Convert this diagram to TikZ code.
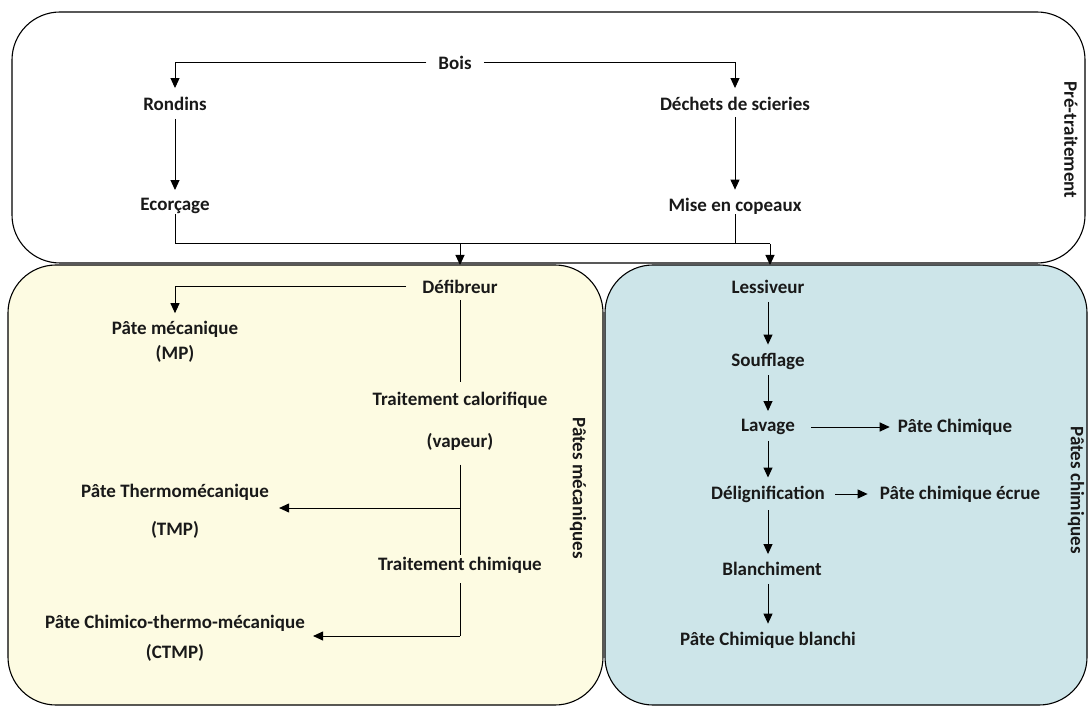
\documentclass[tikz,border=0pt]{standalone}
\usepackage{fontspec}
\setmainfont{Carlito}
\usetikzlibrary{arrows.meta}
\definecolor{boxyellow}{HTML}{FDFBE2}
\definecolor{boxblue}{HTML}{CDE5E9}
\tikzset{
  lbl/.style={font=\bfseries\fontsize{19}{23}\selectfont, inner sep=4pt, text=black!90},
  arr/.style={-{Triangle[length=10pt,width=9pt]}, line width=1pt},
  ln/.style={line width=1pt},
  frame/.style={line width=1.1pt, rounded corners=48pt},
}
\begin{document}
\begin{tikzpicture}[x=1pt,y=-1pt]
\useasboundingbox (0,0) rectangle (1089,708);
% frames
\draw[frame, fill=boxyellow] (8,265) rectangle (603,705);
\draw[frame, fill=boxblue] (605,265) rectangle (1087,705);
\draw[frame, fill=white] (12,12) rectangle (1085,263);

% pre-traitement
\node[lbl] (bois) at (455,63) {Bois};
\node[lbl] (rondins) at (175,104) {Rondins};
\node[lbl] (dechets) at (735,104) {Déchets de scieries};
\node[lbl] (ecor) at (175,206) {Ecorçage};
\node[lbl] (mise) at (735,206) {Mise en copeaux};
\node[lbl, rotate=-90] (pre) at (1071,140) {Pré-traitement};

\draw[arr] ([xshift=-8pt]bois.west) -| ([yshift=5pt]rondins.north);
\draw[arr] ([xshift=8pt]bois.east) -| ([yshift=5pt]dechets.north);
\draw[arr, shorten <=4pt, shorten >=4pt] (rondins) -- (ecor);
\draw[arr, shorten <=2pt, shorten >=4pt] (dechets) -- (mise);

\coordinate (jl) at (175,244);
\coordinate (jr) at (770,244);
\coordinate (jd) at (460,244);
\coordinate (jm) at (735,244);
\coordinate (t1) at (460,265);
\coordinate (t2) at (770,265);
\draw[ln] ([yshift=4pt]ecor.south) |- (jr);
\draw[ln] ([yshift=4pt]mise.south) -- (jm);
\draw[arr] (jd) -- (t1);
\draw[arr] (jr) -- (t2);

% pates mecaniques
\node[lbl] (defib) at (460,287) {Défibreur};
\node[lbl, align=center] (pmec) at (175,342) {Pâte mécanique\\[2pt](MP)};
\node[lbl] (tcal) at (460,400) {Traitement calorifique};
\node[lbl] (vap) at (460,442) {(vapeur)};
\node[lbl, align=center] (ptmp) at (175,511) {Pâte Thermomécanique\\[15pt](TMP)};
\node[lbl] (tchim) at (460,565) {Traitement chimique};
\node[lbl, align=center] (pctmp) at (175,638) {Pâte Chimico-thermo-mécanique\\[7pt](CTMP)};
\node[lbl, rotate=-90] (pmecs) at (578,488) {Pâtes mécaniques};

\draw[arr] ([xshift=-12pt]defib.west) -| ([yshift=4pt]pmec.north);
\draw[ln, shorten <=2pt, shorten >=6pt] (defib.south) -- (tcal.north);
\coordinate (k1) at (460,508);
\draw[ln, shorten <=10pt] (vap.south) -- ([yshift=-2pt]tchim.north);
\draw[arr] (k1) -- ([xshift=6pt]k1 -| ptmp.east);
\coordinate (k2) at (460,636);
\draw[ln, shorten <=6pt] (tchim.south) -- (k2);
\draw[arr] (k2) -- ([xshift=4pt]k2 -| pctmp.east);

% pates chimiques
\node[lbl] (lessi) at (768,287) {Lessiveur};
\node[lbl] (souf) at (768,361) {Soufflage};
\node[lbl] (lav) at (768,427) {Lavage};
\node[lbl] (pchim) at (955,427) {Pâte Chimique};
\node[lbl] (delig) at (768,494) {Délignification};
\node[lbl] (ecrue) at (960,494) {Pâte chimique écrue};
\node[lbl] (blanc) at (772,569) {Blanchiment};
\node[lbl] (pblanc) at (768,640) {Pâte Chimique blanchi};
\node[lbl, rotate=-90] (pchims) at (1076,490) {Pâtes chimiques};

\draw[arr, shorten <=4pt, shorten >=4pt] (lessi) -- (souf);
\draw[arr, shorten <=2pt, shorten >=4pt] (souf) -- (lav);
\draw[arr, shorten <=2pt, shorten >=4pt] (lav) -- (delig);
\draw[arr, shorten <=4pt, shorten >=4pt] (delig.south -| lav) -- (blanc.north -| lav);
\draw[arr, shorten <=4pt, shorten >=4pt] (blanc.south -| lav) -- (pblanc.north -| lav);
\draw[arr, shorten <=12pt, shorten >=4pt] (lav.east) -- (pchim.west);
\draw[arr, shorten <=6pt, shorten >=8pt] (delig.east) -- (ecrue.west);
\end{tikzpicture}
\end{document}
